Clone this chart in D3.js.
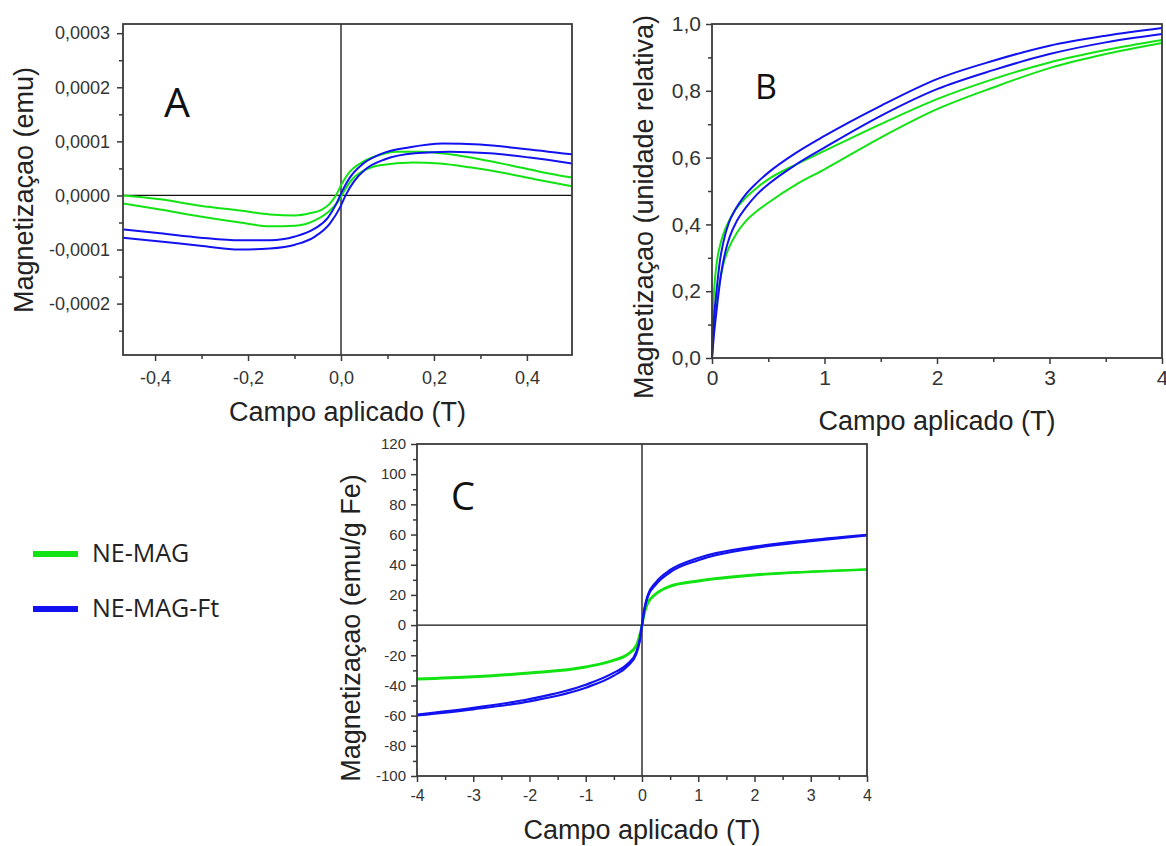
<!DOCTYPE html>
<html><head><meta charset="utf-8">
<script src="https://cdn.jsdelivr.net/npm/d3@7"></script>
<style>body{margin:0;background:#fff}svg{display:block}</style>
</head><body>
<svg id="chart" width="1166" height="846"></svg>
<script>
// ---------------- DATA ----------------
const seriesNames = ["NE-MAG", "NE-MAG-Ft"];

// Panel A: field (T) vs magnetization (emu), two branches per sample
const aNeMagUpper = [[-0.469,0.00e-4],[-0.389,-0.07e-4],[-0.303,-0.19e-4],[-0.217,-0.28e-4],[-0.153,-0.35e-4],[-0.099,-0.37e-4],[-0.067,-0.33e-4],[-0.041,-0.26e-4],[-0.024,-0.15e-4],[-0.011,0.00e-4],[0.002,0.22e-4],[0.019,0.44e-4],[0.041,0.59e-4],[0.073,0.72e-4],[0.120,0.81e-4],[0.170,0.81e-4],[0.234,0.76e-4],[0.299,0.67e-4],[0.363,0.56e-4],[0.428,0.44e-4],[0.497,0.33e-4]];
const aNeMagLower = [[-0.469,-0.15e-4],[-0.389,-0.26e-4],[-0.303,-0.39e-4],[-0.217,-0.50e-4],[-0.153,-0.57e-4],[-0.099,-0.56e-4],[-0.056,-0.46e-4],[-0.028,-0.31e-4],[-0.006,-0.11e-4],[0.006,0.07e-4],[0.024,0.30e-4],[0.045,0.44e-4],[0.084,0.56e-4],[0.155,0.61e-4],[0.213,0.59e-4],[0.277,0.52e-4],[0.342,0.43e-4],[0.417,0.30e-4],[0.497,0.17e-4]];
const aFtUpper = [[-0.469,-0.63e-4],[-0.389,-0.70e-4],[-0.303,-0.78e-4],[-0.217,-0.83e-4],[-0.153,-0.83e-4],[-0.099,-0.76e-4],[-0.056,-0.61e-4],[-0.028,-0.41e-4],[-0.011,-0.17e-4],[0.002,0.07e-4],[0.019,0.33e-4],[0.045,0.57e-4],[0.084,0.76e-4],[0.148,0.89e-4],[0.219,0.96e-4],[0.299,0.94e-4],[0.385,0.87e-4],[0.497,0.76e-4]];
const aFtLower = [[-0.469,-0.78e-4],[-0.389,-0.85e-4],[-0.303,-0.93e-4],[-0.217,-1.00e-4],[-0.153,-0.98e-4],[-0.099,-0.91e-4],[-0.056,-0.76e-4],[-0.024,-0.52e-4],[-0.002,-0.22e-4],[0.011,0.02e-4],[0.028,0.26e-4],[0.052,0.48e-4],[0.095,0.67e-4],[0.159,0.78e-4],[0.234,0.81e-4],[0.320,0.78e-4],[0.406,0.70e-4],[0.497,0.59e-4]];
const aXTicks = [-0.4, -0.2, 0, 0.2, 0.4];
const aXMinor = [-0.3, -0.1, 0.1, 0.3];
const aYTicks = [-0.0002, -0.0001, 0, 0.0001, 0.0002, 0.0003];
const aYMinor = [-0.00025, -0.00015, -0.00005, 0.00005, 0.00015, 0.00025];

// Panel B: field (T) vs relative magnetization
const bNeMagUpper = [[0,0],[0.005,0.10],[0.01,0.15],[0.02,0.21],[0.04,0.28],[0.07,0.335],[0.1,0.37],[0.15,0.41],[0.2,0.44],[0.3,0.48],[0.4,0.51],[0.5,0.535],[0.75,0.58],[1.0,0.62],[1.5,0.70],[2.0,0.775],[2.5,0.835],[3.0,0.885],[3.5,0.922],[4.0,0.952]];
const bNeMagLower = [[0,0],[0.01,0.07],[0.02,0.11],[0.04,0.17],[0.07,0.23],[0.1,0.28],[0.15,0.33],[0.22,0.374],[0.3,0.41],[0.4,0.44],[0.5,0.465],[0.75,0.52],[1.0,0.565],[1.5,0.66],[2.0,0.745],[2.5,0.81],[3.0,0.868],[3.5,0.91],[4.0,0.943]];
const bFtUpper = [[0,0],[0.01,0.08],[0.02,0.13],[0.04,0.20],[0.07,0.29],[0.1,0.345],[0.15,0.405],[0.2,0.44],[0.3,0.49],[0.4,0.525],[0.5,0.555],[0.75,0.615],[1.0,0.665],[1.5,0.755],[2.0,0.835],[2.5,0.89],[3.0,0.935],[3.5,0.965],[4.0,0.988]];
const bFtLower = [[0,0],[0.015,0.06],[0.03,0.11],[0.05,0.17],[0.08,0.25],[0.12,0.32],[0.16,0.365],[0.22,0.41],[0.3,0.45],[0.4,0.49],[0.5,0.52],[0.75,0.58],[1.0,0.63],[1.5,0.725],[2.0,0.805],[2.5,0.862],[3.0,0.91],[3.5,0.945],[4.0,0.97]];
const bXTicks = [0, 1, 2, 3, 4];
const bXMinor = [0.5, 1.5, 2.5, 3.5];
const bYTicks = [0, 0.2, 0.4, 0.6, 0.8, 1.0];
const bYMinor = [0.1, 0.3, 0.5, 0.7, 0.9];

// Panel C: field (T) vs magnetization (emu/g Fe)
const cNeMagDesc = [[-4,-35.5],[-3,-34],[-2,-31.5],[-1,-27.5],[-0.5,-23],[-0.25,-19],[-0.1,-13],[-0.04,-6],[0,0.5],[0.04,8],[0.1,15],[0.25,21],[0.5,26],[1,29.5],[2,33.5],[3,35.5],[4,37]];
const cNeMagAsc = [[-4,-36],[-3,-34.5],[-2,-32],[-1,-28],[-0.5,-23.5],[-0.25,-19.5],[-0.1,-14],[-0.04,-7.5],[0,-1],[0.04,7],[0.1,14],[0.25,20.5],[0.5,25.5],[1,29],[2,33],[3,35.2],[4,36.8]];
const cFtDesc = [[-4,-59.3],[-3,-54.8],[-2,-49],[-1,-39.5],[-0.5,-31.5],[-0.25,-25.5],[-0.1,-17.5],[-0.04,-9.5],[0,0.5],[0.04,10.5],[0.1,19.5],[0.25,28.5],[0.5,36.5],[1,44.5],[2,52],[3,56.3],[4,59.8]];
const cFtAsc = [[-4,-59.8],[-3,-55.8],[-2,-50.5],[-1,-41.5],[-0.5,-33.5],[-0.25,-27],[-0.1,-19],[-0.04,-10.5],[0,-0.5],[0.04,9.5],[0.1,18.5],[0.25,27],[0.5,35],[1,43],[2,51],[3,55.6],[4,59.5]];
const cXTicks = [-4, -3, -2, -1, 0, 1, 2, 3, 4];
const cXMinor = [-3.5, -2.5, -1.5, -0.5, 0.5, 1.5, 2.5, 3.5];
const cYTicks = [-100, -80, -60, -40, -20, 0, 20, 40, 60, 80, 100, 120];
const cYMinor = [-90, -70, -50, -30, -10, 10, 30, 50, 70, 90, 110];

// ---------------- DRAW ----------------
const GREEN = "#12e312", BLUE = "#1212f0";
const svg = d3.select("#chart");
const AX = "Arial, 'Liberation Sans', sans-serif";
const LET = "'Open Sans', 'Noto Sans', sans-serif";

function comma(dec) {
  return d => { let s = Math.abs(d) < 1e-12 ? (0).toFixed(dec) : d.toFixed(dec); return s.replace(".", ","); };
}

function panel(cfg) {
  const x = d3.scaleLinear().domain(cfg.xd).range([cfg.l, cfg.r]);
  const y = d3.scaleLinear().domain(cfg.yd).range([cfg.b, cfg.t]);
  const g = svg.append("g");
  if (cfg.zero) {
    g.append("line").attr("x1", x(0)).attr("x2", x(0)).attr("y1", cfg.t).attr("y2", cfg.b)
      .attr("stroke", "#111").attr("stroke-width", 1.3);
    g.append("line").attr("x1", cfg.l).attr("x2", cfg.r).attr("y1", y(0)).attr("y2", y(0))
      .attr("stroke", "#111").attr("stroke-width", 1.3);
  }
  const line = d3.line().x(d => x(d[0])).y(d => y(d[1])).curve(d3.curveMonotoneX);
  cfg.series.forEach(s => {
    g.append("path").datum(s.data).attr("d", line).attr("fill", "none")
      .attr("stroke", s.color).attr("stroke-width", cfg.lw || 2).attr("stroke-linejoin", "round");
  });
  g.append("rect").attr("x", cfg.l).attr("y", cfg.t).attr("width", cfg.r - cfg.l).attr("height", cfg.b - cfg.t)
    .attr("fill", "none").attr("stroke", "#3a3a3a").attr("stroke-width", 1.8);
  const ax = g.append("g").attr("transform", `translate(0,${cfg.b})`)
    .call(d3.axisBottom(x).tickValues(cfg.xt).tickFormat(cfg.xf).tickSize(6).tickSizeOuter(0).tickPadding(cfg.xpad));
  const axm = g.append("g").attr("transform", `translate(0,${cfg.b})`)
    .call(d3.axisBottom(x).tickValues(cfg.xm).tickFormat("").tickSize(4).tickSizeOuter(0));
  const ay = g.append("g").attr("transform", `translate(${cfg.l},0)`)
    .call(d3.axisLeft(y).tickValues(cfg.yt).tickFormat(cfg.yf).tickSize(6).tickSizeOuter(0).tickPadding(cfg.ypad));
  const aym = g.append("g").attr("transform", `translate(${cfg.l},0)`)
    .call(d3.axisLeft(y).tickValues(cfg.ym).tickFormat("").tickSize(4).tickSizeOuter(0));
  [ax, axm, ay, aym].forEach(a => {
    a.select(".domain").remove();
    a.selectAll(".tick line").attr("stroke", "#3a3a3a").attr("stroke-width", 1.5);
  });
  ax.selectAll("text").attr("font-family", AX).attr("font-size", cfg.xfs).attr("fill", "#333");
  ay.selectAll("text").attr("font-family", AX).attr("font-size", cfg.yfs).attr("fill", "#333");
  g.append("text").attr("x", (cfg.l + cfg.r) / 2).attr("y", cfg.xtY).attr("text-anchor", "middle")
    .attr("font-family", AX).attr("font-size", cfg.tfs).attr("fill", "#222").text(cfg.xTitle);
  g.append("text").attr("transform", `translate(${cfg.ytX},${cfg.ytY}) rotate(-90)`).attr("text-anchor", "middle")
    .attr("font-family", AX).attr("font-size", cfg.tfs).attr("fill", "#222").text(cfg.yTitle);
  g.append("text").attr("x", cfg.letX).attr("y", cfg.letY).attr("font-family", LET)
    .attr("font-size", cfg.letFs).attr("fill", "#111").text(cfg.letter);
}

panel({
  xd: [-0.469, 0.497], yd: [-0.000295, 0.000317], l: 123, r: 572, t: 24, b: 355, zero: true,
  xt: aXTicks, xm: aXMinor, yt: aYTicks, ym: aYMinor, xf: comma(1), yf: comma(4),
  xfs: 18, yfs: 18, xpad: 10, ypad: 7, tfs: 27,
  xTitle: "Campo aplicado (T)", xtY: 421, yTitle: "Magnetizaçao (emu)", ytX: 33, ytY: 190,
  letter: "A", letX: 164, letY: 117, letFs: 41,
  series: [
    {data: aNeMagUpper, color: GREEN}, {data: aNeMagLower, color: GREEN},
    {data: aFtUpper, color: BLUE}, {data: aFtLower, color: BLUE}
  ]
});

panel({
  xd: [0, 4], yd: [0, 1], l: 712, r: 1162, t: 24, b: 358, zero: false,
  xt: bXTicks, xm: bXMinor, yt: bYTicks, ym: bYMinor, xf: d => String(d), yf: comma(1),
  xfs: 21, yfs: 21, xpad: 6, ypad: 5, tfs: 27,
  xTitle: "Campo aplicado (T)", xtY: 430, yTitle: "Magnetizaçao (unidade relativa)", ytX: 653, ytY: 207,
  letter: "B", letX: 755, letY: 99, letFs: 34,
  series: [
    {data: bNeMagUpper, color: GREEN}, {data: bNeMagLower, color: GREEN},
    {data: bFtUpper, color: BLUE}, {data: bFtLower, color: BLUE}
  ]
});

panel({
  xd: [-4, 4], yd: [-100, 120], l: 417, r: 867, t: 444, b: 776, zero: true,
  xt: cXTicks, xm: cXMinor, yt: cYTicks, ym: cYMinor, xf: d => String(d), yf: d => String(d),
  xfs: 16, yfs: 15, xpad: 8, ypad: 5, tfs: 27, lw: 2.2,
  xTitle: "Campo aplicado (T)", xtY: 839, yTitle: "Magnetizaçao (emu/g Fe)", ytX: 360, ytY: 628,
  letter: "C", letX: 451, letY: 510, letFs: 38,
  series: [
    {data: cNeMagDesc, color: GREEN}, {data: cNeMagAsc, color: GREEN},
    {data: cFtDesc, color: BLUE}, {data: cFtAsc, color: BLUE}
  ]
});

// legend
const legY = [554, 609];
const legColors = [GREEN, BLUE];
const leg = svg.append("g");
seriesNames.forEach((n, i) => {
  leg.append("line").attr("x1", 33).attr("x2", 78).attr("y1", legY[i]).attr("y2", legY[i])
    .attr("stroke", legColors[i]).attr("stroke-width", 6);
  leg.append("text").attr("x", 92).attr("y", legY[i] + 8).attr("font-family", LET)
    .attr("font-size", 25).attr("fill", "#222").text(n);
});
</script>
</body></html>
